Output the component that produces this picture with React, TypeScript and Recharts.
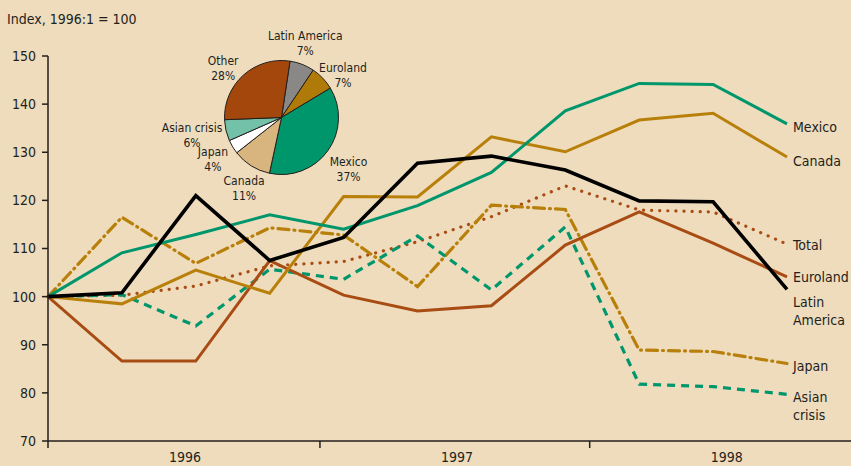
import React from "react";
import { LineChart, Line, XAxis, YAxis, PieChart, Pie, Cell } from "recharts";

// Quarterly index, 1996:1 = 100
const quarters = ["1996:1", "1996:2", "1996:3", "1996:4", "1997:1", "1997:2", "1997:3", "1997:4", "1998:1", "1998:2", "1998:3"];
const mexico = [100, 109.1, 112.9, 117.0, 114.0, 118.9, 125.8, 138.6, 144.3, 144.1, 135.9];
const canada = [100, 98.5, 105.5, 100.7, 120.8, 120.7, 133.2, 130.1, 136.7, 138.1, 129.0];
const total = [100, 100.3, 102.2, 106.4, 107.3, 111.4, 116.6, 123.0, 118.0, 117.6, 110.9];
const euroland = [100, 86.6, 86.6, 107.5, 100.3, 97.0, 98.1, 110.7, 117.6, 111.1, 104.1];
const latinAmerica = [100, 100.8, 121.0, 107.5, 112.3, 127.7, 129.2, 126.3, 119.9, 119.7, 101.5];
const japan = [100, 116.5, 106.9, 114.3, 112.8, 102.1, 119.0, 118.1, 88.9, 88.6, 86.1];
const asianCrisis = [100, 100.4, 93.9, 105.7, 103.6, 112.6, 101.4, 114.5, 81.8, 81.3, 79.7];

// year boundaries on the quarter scale, for the x axis
const yearLabels = ["1996", "1997", "1998"];
const yearStarts = [0, 3.68, 7.33];

const yTicks = [70, 80, 90, 100, 110, 120, 130, 140, 150];

// export shares (pie)
const shareNames = ["Latin America", "Euroland", "Mexico", "Canada", "Japan", "Asian crisis", "Other"];
const shareValues = [7, 7, 37, 11, 4, 6, 28];
const shareColors = ["#898886", "#b07a08", "#00966c", "#d8b47e", "#ffffff", "#74c1a9", "#a3470c"];

// small hand nudges for pie labels (x, y in px)
const labelNudge: Record<string, number[]> = {
  "Latin America": [-6, 0],
  Euroland: [3, 13],
  Mexico: [2, 5],
  Canada: [5, 3],
  Japan: [0, 0],
  "Asian crisis": [2, 0],
  Other: [-5, 10],
};

const FONT = "'Liberation Sans Narrow', 'DejaVu Sans Condensed', Roboto, sans-serif";
const INK = "#231f1c";

const data = quarters.map((q, i) => ({
  t: i,
  q,
  mexico: mexico[i],
  canada: canada[i],
  total: total[i],
  euroland: euroland[i],
  latinAmerica: latinAmerica[i],
  japan: japan[i],
  asianCrisis: asianCrisis[i],
}));

const pieData = shareNames.map((name, i) => ({ name, value: shareValues[i] }));

const series = [
  { key: "total", label: "Total", color: "#a84c14", width: 3.2, dash: "0.1 8", cap: "round", dy: [6] },
  { key: "japan", label: "Japan", color: "#b8800a", width: 3.2, dash: "11 5 1 5", cap: "round", dy: [7] },
  { key: "asianCrisis", label: "Asian\ncrisis", color: "#00966c", width: 3.2, dash: "8 6", cap: "butt", dy: [8, 18] },
  { key: "euroland", label: "Euroland", color: "#a84c14", width: 3, cap: "butt", dy: [5] },
  { key: "canada", label: "Canada", color: "#b8800a", width: 3, cap: "butt", dy: [9] },
  { key: "mexico", label: "Mexico", color: "#00966c", width: 3, cap: "butt", dy: [8] },
  { key: "latinAmerica", label: "Latin\nAmerica", color: "#000000", width: 3.6, cap: "butt", dy: [18, 18] },
];

const last = quarters.length - 1;

const endLabel = (text: string, dy: number[]) => (props: any) => {
  if (props.index !== last) return null;
  const lines = text.split("\n");
  return (
    <text x={props.x + 6} y={props.y} fill={INK} fontSize={14} fontFamily={FONT}>
      {lines.map((l, i) => (
        <tspan key={i} x={props.x + 6} dy={dy[i]}>
          {l}
        </tspan>
      ))}
    </text>
  );
};

const YearTick = (props: any) => {
  const idx = yearStarts.indexOf(props.payload.value);
  return (
    <text x={props.x + 137} y={props.y + 14} textAnchor="middle" fill={INK} fontSize={14} fontFamily={FONT}>
      {yearLabels[idx]}
    </text>
  );
};

const RADIAN = Math.PI / 180;
const pieLabel = (props: any) => {
  const { cx, cy, midAngle, name, value } = props;
  const c = Math.cos(-midAngle * RADIAN);
  const s = Math.sin(-midAngle * RADIAN);
  const half = name.length * 3.3;
  const nudge = labelNudge[name] || [0, 0];
  const x = cx + 80 * c + c * c * c * Math.max(0, half - 25) + nudge[0];
  const y = cy + 80 * s + nudge[1];
  return (
    <text x={x} y={y} textAnchor="middle" fill={INK} fontSize={12} fontFamily={FONT}>
      <tspan x={x} dy={-3}>{name}</tspan>
      <tspan x={x} dy={15}>{`${value}%`}</tspan>
    </text>
  );
};

export default function App() {
  return (
    <div
      style={{
        position: "absolute",
        left: 0,
        top: 0,
        width: 851,
        height: 466,
        background: "#eedcbd",
        fontFamily: FONT,
        overflow: "hidden",
      }}
    >
      <div style={{ position: "absolute", left: 7, top: 11, fontSize: 14, color: INK, whiteSpace: "nowrap" }}>
        Index, 1996:1 = 100
      </div>
      <LineChart width={851} height={466} data={data} margin={{ top: 56, right: 0, bottom: 0, left: 0 }}>
        <XAxis
          dataKey="t"
          type="number"
          domain={[0, 10.866]}
          ticks={yearStarts}
          interval={0}
          height={25}
          tickSize={7}
          tickMargin={0}
          axisLine={{ stroke: INK, strokeWidth: 1.5 }}
          tickLine={{ stroke: INK, strokeWidth: 1.5 }}
          tick={<YearTick />}
        />
        <YAxis
          type="number"
          domain={[70, 150]}
          ticks={yTicks}
          interval={0}
          width={48}
          tickSize={6}
          tickMargin={6}
          axisLine={{ stroke: INK, strokeWidth: 1.5 }}
          tickLine={{ stroke: INK, strokeWidth: 1.5 }}
          tick={{ fill: INK, fontSize: 14, fontFamily: FONT }}
        />
        {series.map((s) => (
          <Line
            key={s.key}
            dataKey={s.key}
            type="linear"
            stroke={s.color}
            strokeWidth={s.width}
            strokeDasharray={s.dash}
            strokeLinecap={s.cap as any}
            dot={false}
            activeDot={false}
            isAnimationActive={false}
            label={endLabel(s.label, s.dy)}
          />
        ))}
      </LineChart>
      <div style={{ position: "absolute", left: 140, top: 0 }}>
        <PieChart width={300} height={230} margin={{ top: 0, right: 0, bottom: 0, left: 0 }}>
          <Pie
            data={pieData}
            dataKey="value"
            nameKey="name"
            cx={141.5}
            cy={117.5}
            outerRadius={57}
            innerRadius={0}
            startAngle={81.4}
            endAngle={-278.6}
            stroke={INK}
            strokeWidth={1}
            labelLine={false}
            label={pieLabel}
            isAnimationActive={false}
          >
            {pieData.map((d, i) => (
              <Cell key={d.name} fill={shareColors[i]} />
            ))}
          </Pie>
        </PieChart>
      </div>
    </div>
  );
}
